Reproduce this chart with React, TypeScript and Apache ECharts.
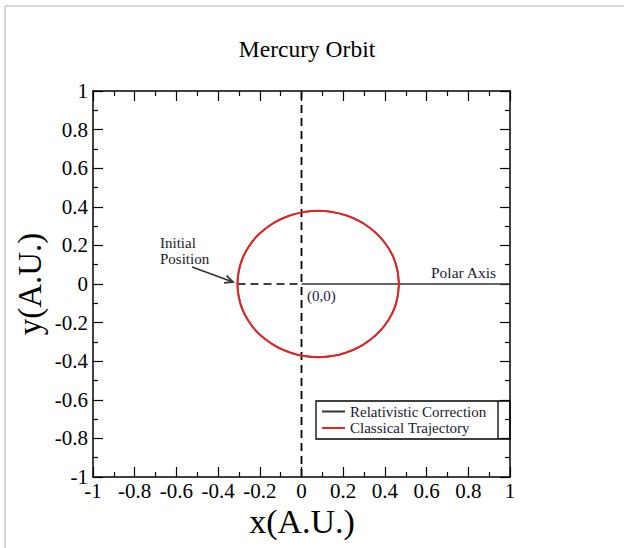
import React, { useEffect, useRef } from "react";
import * as echarts from "echarts";

// Orbit points (x, y in A.U.)
const orbitX = [0.467, 0.461, 0.444, 0.415, 0.376, 0.329, 0.274, 0.212, 0.147, 0.08, 0.013, -0.052, -0.114, -0.169, -0.217, -0.255, -0.284, -0.301, -0.307,
  -0.301, -0.284, -0.255, -0.217, -0.169, -0.114, -0.052, 0.013, 0.08, 0.147, 0.212, 0.274, 0.329, 0.376, 0.415, 0.444, 0.461, 0.467];
const orbitY = [0, 0.066, 0.13, 0.19, 0.244, 0.29, 0.328, 0.356, 0.373, 0.379, 0.373, 0.356, 0.328, 0.29, 0.244, 0.19, 0.13, 0.066, 0,
  -0.066, -0.13, -0.19, -0.244, -0.29, -0.328, -0.356, -0.373, -0.379, -0.373, -0.356, -0.328, -0.29, -0.244, -0.19, -0.13, -0.066, 0];

const verticalDashed = [[0, -1], [0, 1]];
const initialDashed = [[-0.307, 0], [0, 0]];
const polarAxis = [[0, 0], [1, 0]];

const seriesNames = ["Relativistic Correction", "Classical Trajectory"];
const titleText = "Mercury Orbit";
const xName = "x(A.U.)";
const yName = "y(A.U.)";

const FONT = "'Liberation Serif', 'Times New Roman', serif";

export default function App() {
  const ref = useRef<HTMLDivElement>(null);
  useEffect(() => {
    if (!ref.current) return;
    const chart = echarts.init(ref.current, null, { renderer: "svg" });
    const orbit = orbitX.map((x, i) => [x, orbitY[i]]);
    const axisCommon = (pos: string, showLabel: boolean) => ({
      type: "value",
      min: -1,
      max: 1,
      interval: 0.2,
      position: pos,
      axisLine: { show: true, onZero: false, lineStyle: { color: "#000", width: 1.5 } },
      axisTick: { show: true, inside: true, length: 10, lineStyle: { color: "#000", width: 1.2 } },
      minorTick: { show: true, splitNumber: 2, length: 5, lineStyle: { color: "#000", width: 1.2 } },
      splitLine: { show: false },
      minorSplitLine: { show: false },
      axisLabel: {
        show: showLabel,
        color: "#000",
        fontFamily: FONT,
        fontSize: 21,
        margin: pos === "left" ? 5 : 3,
      },
    });
    chart.setOption({
      animation: false,
      backgroundColor: "#fff",
      title: {
        text: titleText,
        left: 302,
        textAlign: "center",
        top: 32,
        textStyle: { fontFamily: FONT, fontSize: 23.5, fontWeight: "normal", color: "#000" },
      },
      grid: { left: 93, right: 114, top: 91, bottom: 71 },
      xAxis: [axisCommon("bottom", true), axisCommon("top", false)],
      yAxis: [axisCommon("left", true), axisCommon("right", false)],
      legend: {
        data: seriesNames,
        orient: "vertical",
        left: 321,
        top: 404,
        padding: 0,
        itemWidth: 23,
        itemHeight: 14,
        itemGap: 1.5,
        itemStyle: { color: "transparent", borderWidth: 0, opacity: 0 },
        textStyle: { fontFamily: FONT, fontSize: 15, color: "#1a1a33" },
      },
      series: [
        {
          type: "line",
          name: "vdash",
          data: verticalDashed,
          symbol: "none",
          lineStyle: { color: "#000", width: 1.8, type: [8, 5] },
          silent: true,
        },
        {
          type: "line",
          name: "hdash",
          data: initialDashed,
          symbol: "none",
          lineStyle: { color: "#000", width: 1.6, type: [8, 5] },
          silent: true,
        },
        {
          type: "line",
          name: "polar",
          data: polarAxis,
          symbol: "none",
          lineStyle: { color: "#333", width: 1.5 },
          silent: true,
        },
        {
          type: "line",
          name: seriesNames[0],
          data: orbit,
          symbol: "none",
          smooth: 0.3,
          itemStyle: { color: "#333" },
          lineStyle: { color: "#333", width: 1.6 },
        },
        {
          type: "line",
          name: seriesNames[1],
          data: orbit,
          symbol: "none",
          smooth: 0.3,
          itemStyle: { color: "#ff4040" },
          lineStyle: { color: "#e52424", width: 2 },
        },
      ],
      graphic: [
        { type: "line", shape: { x1: 5, y1: 6, x2: 624, y2: 6 }, style: { stroke: "#c8c8c8", lineWidth: 1.5 } },
        { type: "line", shape: { x1: 5, y1: 6, x2: 5, y2: 548 }, style: { stroke: "#c8c8c8", lineWidth: 1.5 } },
        { type: "rect", shape: { x: 316, y: 401, width: 194, height: 38 }, style: { fill: "none", stroke: "#000", lineWidth: 1.3 }, z: 10 },
        { type: "line", shape: { x1: 498, y1: 401, x2: 498, y2: 439 }, style: { stroke: "#000", lineWidth: 1.3 }, z: 10 },
        {
          type: "text",
          x: 30,
          y: 284,
          rotation: Math.PI / 2,
          style: { text: yName, font: `33px ${FONT}`, fill: "#000", textAlign: "center", textVerticalAlign: "middle" },
        },
        {
          type: "text",
          x: 302,
          y: 521,
          style: { text: xName, font: `34px ${FONT}`, fill: "#000", textAlign: "center", textVerticalAlign: "middle" },
        },
        { type: "text", x: 160, y: 243, style: { text: "Initial", font: `15px ${FONT}`, fill: "#1a1a33", textVerticalAlign: "middle" } },
        { type: "text", x: 160, y: 258.5, style: { text: "Position", font: `15px ${FONT}`, fill: "#1a1a33", textVerticalAlign: "middle" } },
        { type: "text", x: 307, y: 296, style: { text: "(0,0)", font: `15px ${FONT}`, fill: "#1a1a33", textVerticalAlign: "middle" } },
        { type: "text", x: 431, y: 272, style: { text: "Polar Axis", font: `15.5px ${FONT}`, fill: "#1a1a33", textVerticalAlign: "middle" } },
        { type: "line", shape: { x1: 192, y1: 267, x2: 233, y2: 282 }, style: { stroke: "#333", lineWidth: 1.8 } },
        { type: "polyline", shape: { points: [[226.6, 275.6], [233, 282], [224, 282.8]] }, style: { stroke: "#333", lineWidth: 1.8, fill: "none" } },
      ],
    });
    return () => chart.dispose();
  }, []);
  return <div ref={ref} style={{ position: "fixed", left: 0, top: 0, width: 624, height: 548 }} />;
}
